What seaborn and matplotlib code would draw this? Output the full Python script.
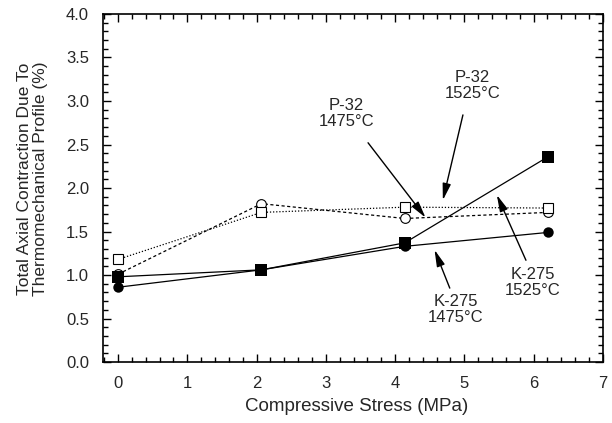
import numpy as np
import pandas as pd
import matplotlib
matplotlib.use("Agg")
import matplotlib.pyplot as plt
from matplotlib.ticker import MultipleLocator
import seaborn as sns

sns.set_style("ticks")
plt.rcParams['font.family'] = ['Liberation Sans', 'DejaVu Sans']

# data
stress = [0, 2.07, 4.14, 6.21]                 # MPa
k275_1475 = [0.86, 1.06, 1.33, 1.49]
k275_1525 = [0.98, 1.06, 1.37, 2.36]
p32_1475 = [1.01, 1.82, 1.65, 1.72]
p32_1525 = [1.18, 1.72, 1.78, 1.77]

fig, ax = plt.subplots(figsize=(6.12, 4.23), dpi=100)
fig.subplots_adjust(left=0.168, right=0.985, top=0.967, bottom=0.144)

# P-32 series (open markers, broken lines)
sns.lineplot(x=stress, y=p32_1475, ax=ax, color='black', lw=0.9,
             linestyle=(0, (2.5, 2)), marker='o', markersize=7,
             markerfacecolor='white', markeredgecolor='black', markeredgewidth=0.8)
sns.lineplot(x=stress, y=p32_1525, ax=ax, color='black', lw=0.9,
             linestyle=(0, (1, 1.5)), marker='s', markersize=7,
             markerfacecolor='white', markeredgecolor='black', markeredgewidth=0.8)

# K-275 series (filled markers, solid lines)
sns.lineplot(x=stress, y=k275_1475, ax=ax, color='black', lw=0.9,
             marker='o', markersize=7.5, markeredgewidth=0)
sns.lineplot(x=stress, y=k275_1525, ax=ax, color='black', lw=0.9,
             marker='s', markersize=8, markeredgewidth=0)

# annotations
arrow = dict(arrowstyle='-|>,head_width=0.25,head_length=1.0', color='black',
             lw=1.0, shrinkA=0, shrinkB=0)
notes = [
    ("P-32\n1475°C", (3.30, 2.86), (3.61, 2.52), (4.44, 1.66)),
    ("P-32\n1525°C", (5.12, 3.18), (4.98, 2.84), (4.69, 1.86)),
    ("K-275\n1525°C", (5.99, 0.91), (5.89, 1.17), (5.47, 1.92)),
    ("K-275\n1475°C", (4.88, 0.60), (4.79, 0.85), (4.57, 1.29)),
]
for label, txt, tail, head in notes:
    ax.text(txt[0], txt[1], label, ha='center', va='center', fontsize=12,
            linespacing=1.1)
    ax.annotate("", xy=head, xytext=tail, arrowprops=arrow)

# axes
ax.set_xlim(-0.22, 7)
ax.set_ylim(0, 4)
ax.xaxis.set_major_locator(MultipleLocator(1))
ax.xaxis.set_minor_locator(MultipleLocator(0.2))
ax.yaxis.set_major_locator(MultipleLocator(0.5))
ax.yaxis.set_minor_locator(MultipleLocator(0.1))
ax.yaxis.set_major_formatter(matplotlib.ticker.FormatStrFormatter('%.1f'))
ax.tick_params(which='both', direction='in', top=True, right=True,
               labelsize=12, pad=10, width=1, color='black')
ax.tick_params(which='major', length=6)
ax.tick_params(which='minor', length=3.5)
for s in ax.spines.values():
    s.set_linewidth(1.2)
    s.set_color('black')

ax.set_xlabel("Compressive Stress (MPa)", fontsize=13.5)
ax.set_ylabel("Total Axial Contraction Due To\nThermomechanical Profile (%)",
              fontsize=12.5, linespacing=1.05)
ax.xaxis.set_label_coords(0.508, -0.102)
ax.yaxis.set_label_coords(-0.11, 0.526)

plt.savefig("out.png", dpi=100)
plt.close()
